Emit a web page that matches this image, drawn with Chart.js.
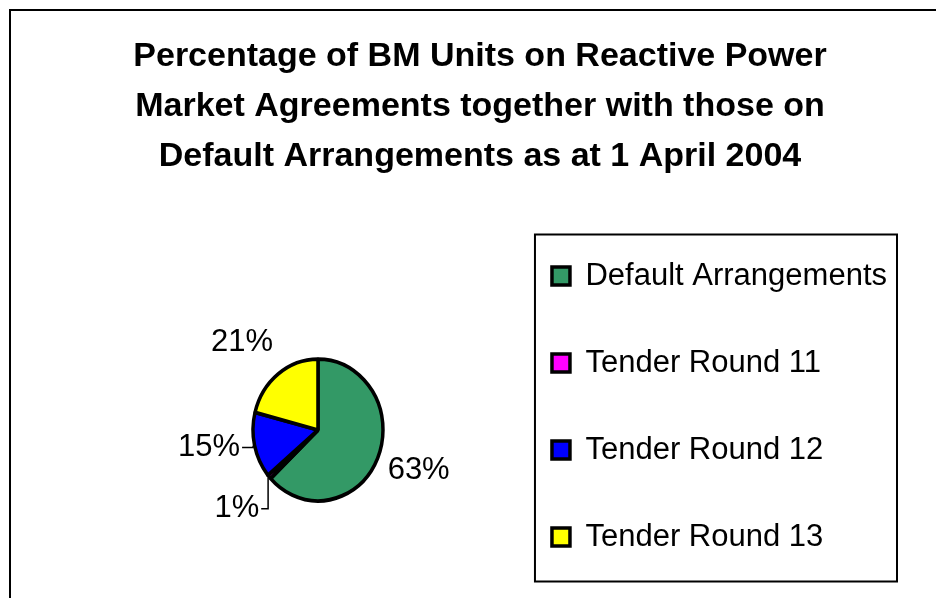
<!DOCTYPE html>
<html>
<head>
<meta charset="utf-8">
<script src="https://cdn.jsdelivr.net/npm/chart.js@4.4.1/dist/chart.umd.min.js"></script>
<style>
  html, body { margin: 0; padding: 0; background: #fff; overflow: hidden; }
  #wrap { width: 936px; height: 598px; overflow: hidden; }
  canvas { display: block; }
</style>
</head>
<body>
<div id="wrap"><canvas id="myChart" width="936" height="680"></canvas></div>
<script>
// chart data
const categories = ['Default Arrangements', 'Tender Round 11', 'Tender Round 12', 'Tender Round 13'];
const shares = [63, 1, 15, 21];
const sliceColors = ['#339966', '#FF00FF', '#0000FF', '#FFFF00'];
const titleLines = [
    'Percentage of BM Units on Reactive Power',
    'Market Agreements together with those on',
    'Default Arrangements as at 1 April 2004'
];
// label nudges from the default outside spot, and which labels get a leader line
const labelNudge = [[2, 3], [-7, 17], [-4, -3], [-10, -14]];
const labelLeader = [false, true, true, false];

const FONT = "'Liberation Sans', Arial, sans-serif";
const Y_STRETCH = 1.09; // the original pie is a bit taller than wide

// white background, outer frame, legend frame, title re-centering
const framePlugin = {
    id: 'frame',
    afterLayout(chart) {
        const tb = chart.titleBlock;
        const shift = 480 - (tb.left + tb.right) / 2;
        tb.left += shift;
        tb.right += shift;
    },
    beforeDraw(chart) {
        const ctx = chart.ctx;
        ctx.save();
        ctx.fillStyle = '#fff';
        ctx.fillRect(0, 0, chart.width, chart.height);
        ctx.strokeStyle = '#000';
        ctx.lineWidth = 2;
        ctx.strokeRect(10, 10, 2000, 2000);
        ctx.restore();
    },
    afterDraw(chart) {
        const ctx = chart.ctx;
        const boxes = chart.legend.legendHitBoxes;
        const first = boxes[0], last = boxes[boxes.length - 1];
        const left = first.left - 17;
        const right = Math.max(...boxes.map(b => b.left + b.width)) + 10;
        const top = first.top - 26;
        const bottom = last.top + last.height + 29;
        ctx.save();
        ctx.strokeStyle = '#000';
        ctx.lineWidth = 2;
        ctx.strokeRect(left, top, right - left, bottom - top);
        ctx.restore();
    }
};

// stretch the pie vertically, then put the percentage labels outside it
const piePlugin = {
    id: 'pieStretch',
    beforeDatasetsDraw(chart) {
        const ctx = chart.ctx;
        const arc = chart.getDatasetMeta(0).data[0];
        ctx.save();
        ctx.translate(arc.x, arc.y);
        ctx.scale(1, Y_STRETCH);
        ctx.translate(-arc.x, -arc.y);
    },
    afterDatasetsDraw(chart) {
        const ctx = chart.ctx;
        ctx.restore();
        ctx.save();
        ctx.font = '31px ' + FONT;
        ctx.fillStyle = '#000';
        ctx.strokeStyle = '#000';
        ctx.lineWidth = 1.5;
        ctx.textAlign = 'center';
        ctx.textBaseline = 'middle';
        chart.getDatasetMeta(0).data.forEach((arc, i) => {
            const p = arc.getProps(['x', 'y', 'startAngle', 'endAngle', 'outerRadius'], true);
            const mid = (p.startAngle + p.endAngle) / 2;
            const c = Math.cos(mid), s = Math.sin(mid);
            const r = p.outerRadius + 1.5;
            const ex = p.x + r * c;
            const ey = p.y + r * Y_STRETCH * s;
            const text = shares[i] + '%';
            const w = ctx.measureText(text).width;
            const h = 22;
            const tx = ex + c * 10 + c * w / 2 + labelNudge[i][0];
            const ty = ey + s * 10 + s * h / 2 + labelNudge[i][1];
            if (labelLeader[i]) {
                ctx.beginPath();
                ctx.moveTo(ex, ey);
                ctx.lineTo(ex, ty);
                ctx.lineTo(tx + w / 2 + 2, ty);
                ctx.stroke();
            }
            ctx.fillText(text, tx, ty);
        });
        ctx.restore();
    }
};

let ctx = document.getElementById('myChart').getContext('2d');
const data = {
    labels: categories,
    datasets: [{
        data: shares,
        backgroundColor: sliceColors,
        borderColor: '#000',
        borderWidth: 3.5,
        radius: 65
    }]
};
const config = {
    type: 'pie',
    data,
    options: {
        responsive: false,
        animation: false,
        devicePixelRatio: 1,
        layout: { padding: { top: 10, left: 140, right: 39, bottom: 24.5 } },
        plugins: {
            tooltip: { enabled: false },
            title: {
                display: true,
                text: titleLines,
                color: '#000',
                font: { family: FONT, size: 34, weight: 'bold', lineHeight: 50 / 34 },
                padding: { top: 22, bottom: 22.5 }
            },
            legend: {
                position: 'right',
                align: 'start',
                fullSize: false,
                maxWidth: 440,
                labels: {
                    boxWidth: 18,
                    boxHeight: 18,
                    padding: 56,
                    color: '#000',
                    font: { family: FONT, size: 31 }
                }
            }
        }
    },
    plugins: [framePlugin, piePlugin]
};
let chart = new Chart(ctx, config);
</script>
</body>
</html>
